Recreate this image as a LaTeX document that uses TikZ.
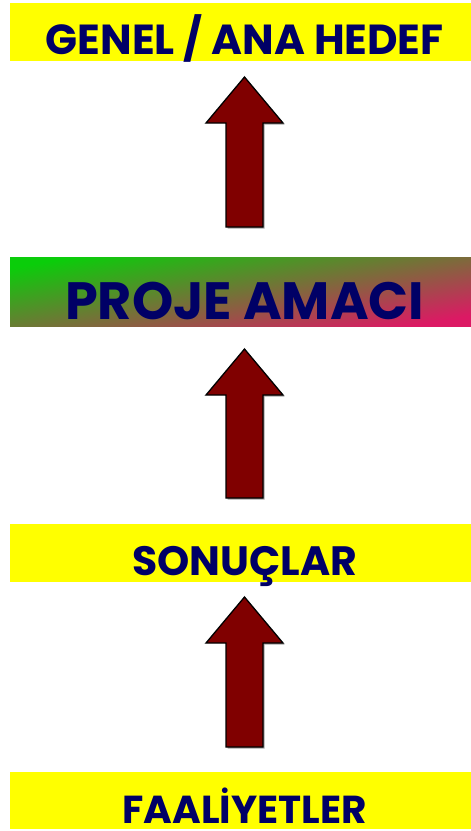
\documentclass[tikz,border=0pt]{standalone}
\usepackage{fontspec}
\setmainfont{Poppins}[BoldFont={Poppins Bold}]
\definecolor{txtnavy}{RGB}{0,0,102}
\definecolor{boxyellow}{RGB}{255,255,0}
\definecolor{arrowred}{RGB}{128,0,0}
\definecolor{gradgreen}{RGB}{10,205,10}
\definecolor{gradred}{RGB}{220,25,100}
\tikzset{
  boxlabel/.style={inner sep=0pt, minimum width=461pt, anchor=north west,
    text=txtnavy, font=\bfseries, align=center},
  yellowbox/.style={boxlabel, fill=boxyellow},
  blockarrow/.style={fill=arrowred, draw=black, line width=1.3pt, line join=miter},
  arrowshadow/.style={fill=black!35, draw=none},
}
\newcommand{\txtshift}{\hspace*{8pt}}
\newcommand{\upblockarrow}[3]{% x centre, tip y, bottom y
  \fill[arrowshadow] ([shift={(1.5,1.5)}]#1,#2) -- ([shift={(1.5,1.5)}]#1+38.5,#2+46) -- ([shift={(1.5,1.5)}]#1+18.5,#2+46) -- ([shift={(1.5,1.5)}]#1+18.5,#3) -- ([shift={(1.5,1.5)}]#1-18.5,#3) -- cycle;
  \draw[blockarrow] (#1,#2) -- (#1+38.5,#2+46) -- (#1+18.5,#2+46) -- (#1+18.5,#3) -- (#1-18.5,#3) -- (#1-18.5,#2+46) -- (#1-38.5,#2+46) -- cycle;
}
\begin{document}
\begin{tikzpicture}[x=1pt,y=-1pt]
\useasboundingbox (0,0) rectangle (471,831);
\node[yellowbox, text height=51pt, text depth=7pt,
  font=\bfseries\fontsize{42}{42}\selectfont] (goal) at (10,3) {\txtshift GENEL / ANA HEDEF};
\node[boxlabel, text height=62pt, text depth=7pt,
  shade, shading=axis, top color=gradgreen, bottom color=gradred, shading angle=10,
  font=\bfseries\fontsize{52.5}{52.5}\selectfont] (purpose) at (10,257) {\txtshift PROJE AMACI};
\node[yellowbox, text height=51pt, text depth=7pt,
  font=\bfseries\fontsize{41}{41}\selectfont] (results) at (10,524) {\txtshift SONUÇLAR};
\node[yellowbox, text height=51pt, text depth=6pt,
  font=\bfseries\fontsize{39}{39}\selectfont] (activities) at (10,772) {\txtshift FAALİYETLER};
\upblockarrow{244.5}{77}{227}
\upblockarrow{244.5}{349}{498}
\upblockarrow{244.5}{597}{747}
\end{tikzpicture}
\end{document}
